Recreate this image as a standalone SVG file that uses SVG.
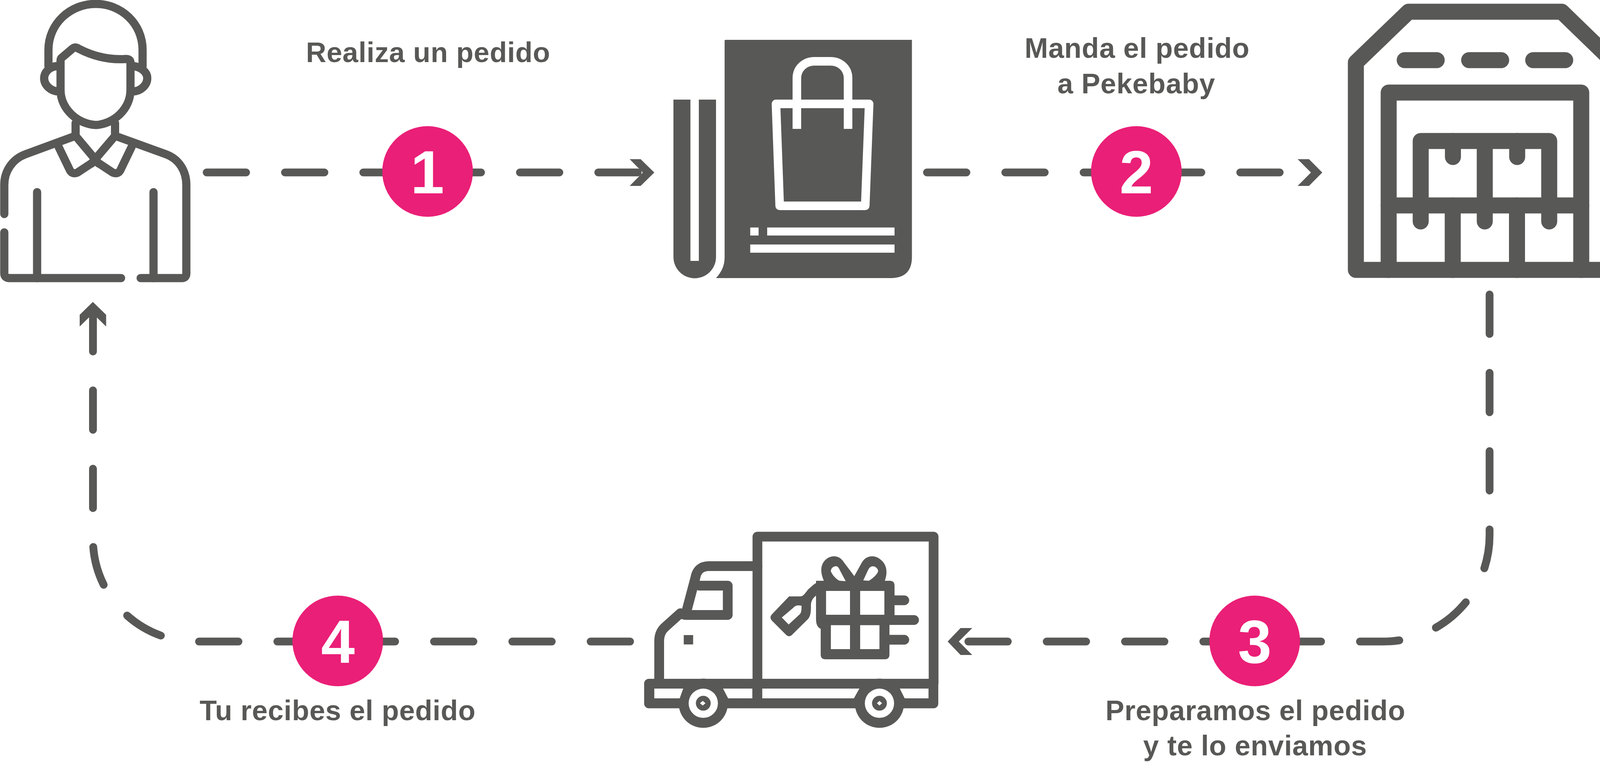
<svg xmlns="http://www.w3.org/2000/svg" width="4152" height="1951" viewBox="0 0 4152 1951">
<style>
.d{fill:#585856}
.w{fill:#fff}
.s{fill:none;stroke:#585856;stroke-linecap:round;stroke-linejoin:round}
.c{fill:none;stroke:#585856;stroke-width:20;stroke-linecap:round;stroke-dasharray:101 99.5}
.b{fill:#ea1f77}
.t{font-family:"Liberation Sans",Arial,sans-serif;font-weight:700;font-size:72px;fill:#585856;text-anchor:middle;letter-spacing:.8px}
.n{font-family:"Liberation Sans",Arial,sans-serif;font-weight:700;font-size:155px;fill:#fff;text-anchor:middle}
</style>
<rect width="4152" height="1951" fill="#fff"/>
<g id="connectors">
<path class="c" d="M529 441.5H1640"/>
<polygon class="d" points="1612,407.6 1640,407.6 1675,441.7 1640,476 1612,476 1645.6,441.7"/>
<path class="c" d="M2373 441.5H3290"/>
<polygon class="d" points="3322,407.6 3351,407.6 3385,441.7 3351,476 3322,476 3356,441.7"/>
<path class="c" d="M3813.3 754V1370A272 272 0 0 1 3541 1642.6H2472"/>
<polygon class="d" points="2426,1642.6 2459,1608 2489,1608 2454.5,1642.6 2489,1677 2459,1677"/>
<path class="c" d="M1613 1642.6H500A262 262 0 0 1 238 1380.6V805"/>
<polygon class="d" points="237.7,773 271.7,806 271.7,836 237.7,803 204,836 204,806"/>
</g>
<g id="node-person">
<g class="s" stroke-width="21">
<path d="M124 170V128C124 60 180 10 245 10C310 10 365 60 365 128V170"/>
<path d="M155 230C155 280 200 318 245 320C290 318 334 280 334 230V160Q334 151 322 151C280 154 240 145 200 124Q192 119 185 125L159 147Q155 150 155 155Z"/>
<path d="M150 169C125 169 113 187 113 200C113 218 130 234 150 234"/>
<path d="M340 169C365 172 377 187 377 200C377 218 360 234 340 234"/>
<path d="M193.500 315V348L253 419M294.500 315V348L234 419"/>
<path d="M150 376L179 436Q185 447 198 442L243.500 412L289 442Q302 447 308 436L337 376"/>
<path d="M190 349L65 395C30 408 11 440 11 473V548"/>
<path d="M298 349L425 395C460 408 477 440 477 473V700Q477 712 465 712H360"/>
<path d="M11 595V700Q11 712 25 712H310"/>
<path d="M95 492V712M393 492V712"/>
</g>
</g>
<g id="node-catalog">
<path class="d" d="M1855 104Q1855 102 1858 102H2334.500V658Q2334.500 712 2280 712H1833C1848 695 1855 680 1855 658Z"/>
<path class="d" d="M1724 255H1767.500V668H1789V255H1833V658A54.500 54.500 0 0 1 1724 658Z"/>
<g fill="none" stroke="#fff" stroke-width="22" stroke-linejoin="round">
<path d="M1986.500 266H2225L2215 527H1996Z"/>
<path d="M2040 330V200C2040 175 2060 157 2085 157H2126C2151 157 2171 175 2171 200V330"/>
</g>
<rect class="w" x="1920.600" y="582.500" width="21.400" height="20.500"/>
<rect class="w" x="1964" y="582.500" width="326" height="20.500"/>
<rect class="w" x="1920.600" y="626" width="369.400" height="21"/>
</g>
<g id="node-warehouse">
<g class="s" stroke-width="41">
<path d="M3471 691V160L3606 30H3998L4132 160V691Z"/>
<path d="M3596 154H3678M3761 154H3843M3925 154H4007"/>
<path d="M3555 691V237H4048V691"/>
<path d="M3555 526H4048"/>
<path d="M3637 526V361H3966V526M3801 361V526"/>
<path d="M3719.500 361V402M3884 361V402"/>
<path d="M3719 526V691M3883.500 526V691"/>
<path d="M3637 526V567M3801 526V567M3966 526V567"/>
</g>
</g>
<g id="node-truck">
<g class="s" stroke-width="25">
<path d="M1939 1750V1374H2390V1750"/>
<path d="M1687.500 1750V1640Q1688 1618 1703 1605L1742 1570Q1748 1575 1760 1574.500H1863V1499.500H1790"/>
<path d="M1755 1574L1780 1480Q1785 1449.500 1815 1449.500H1939"/>
<path d="M2290 1537H2315M2277 1587.500H2340M2277 1638H2315"/>
</g>
<rect class="d" x="1649" y="1738" width="753" height="75.500" rx="12"/>
<circle class="d" cx="1800.400" cy="1800.600" r="63"/>
<circle class="d" cx="2251.400" cy="1800.600" r="63"/>
<g class="w">
<polygon points="1675,1763 1749,1763 1740,1788 1675,1788"/>
<polygon points="1851,1763 1926,1763 1926,1788 1864,1788"/>
<polygon points="1951.400,1763 2200,1763 2186,1788 1951.400,1788"/>
<polygon points="2303.500,1763 2377,1763 2377,1788 2316,1788"/>
<circle cx="1800.400" cy="1800.600" r="37.500"/>
<circle cx="2251.400" cy="1800.600" r="37.500"/>
</g>
<circle class="d" cx="1800.400" cy="1800.600" r="19"/>
<circle class="d" cx="2251.400" cy="1800.600" r="19"/>
<polygon class="w" points="1799,1794.500 1806,1800.600 1799,1806.600 1792,1800.600"/>
<polygon class="w" points="2251.400,1794.500 2258,1800.600 2251.400,1806.600 2245,1800.600"/>
<rect class="d" x="1750.400" y="1626" width="24" height="24"/>
<path class="d" d="M2110.600 1490C2100 1468 2098 1445 2116 1431C2130 1420 2150 1422 2160.600 1440L2187 1475L2206.500 1440C2217 1422 2238 1420 2252 1431C2272 1445 2273 1468 2264 1490Z"/>
<path class="d" d="M2089 1487H2278Q2290 1487 2290 1500V1588H2277V1676Q2277 1688 2265 1688H2113Q2101 1688 2101 1676V1610Q2089 1605 2089 1585Z"/>
<path class="d" d="M2110.600 1487C2090 1487 2080 1500 2069 1509C2060 1520 2057 1527 2048 1527H2020L1977 1572Q1968 1581 1977 1590L2012 1625Q2020 1633 2028 1625L2069 1584.500C2076 1575 2076 1565 2076 1550C2076 1540 2080 1532 2089 1525L2110 1510Z"/>
<g class="w">
<path d="M2137.600 1450C2128 1452 2125 1462 2128 1465C2133 1476 2145 1486 2150 1487L2165 1488L2150 1460C2147 1452 2142 1448 2137.600 1450Z"/>
<path d="M2234.600 1450C2243 1450 2248 1458 2248 1462C2247 1470 2232 1483 2224 1487L2210 1486L2222 1460C2226 1452 2230 1450 2234.600 1450Z"/>
<path d="M2052 1551C2042 1549 2036 1550 2031 1556L2001.400 1581L2019 1599L2046 1574C2051 1570 2052 1564 2052 1551Z"/>
<rect x="2114.700" y="1513" width="61.300" height="61"/>
<rect x="2202" y="1513" width="62" height="61"/>
<rect x="2127" y="1600.700" width="49" height="61.300"/>
<rect x="2202" y="1600.700" width="49.400" height="61.300"/>
</g>
</g>
<g id="step-1"><circle class="b" cx="1094.600" cy="439" r="116"/><text class="n" x="1094" y="495">1</text><text class="t" x="1096" y="159">Realiza un pedido</text></g>
<g id="step-2"><circle class="b" cx="2909" cy="439" r="116"/><text class="n" x="2909" y="495">2</text><text class="t" x="2911" y="148">Manda el pedido</text><text class="t" x="2909" y="238.500">a Pekebaby</text></g>
<g id="step-3"><circle class="b" cx="3212" cy="1641" r="116"/><text class="n" x="3212" y="1697">3</text><text class="t" x="3214" y="1844">Preparamos el pedido</text><text class="t" x="3213" y="1934">y te lo enviamos</text></g>
<g id="step-4"><circle class="b" cx="864.600" cy="1641" r="116"/><text class="n" x="865" y="1697">4</text><text class="t" x="864.500" y="1844">Tu recibes el pedido</text></g>
</svg>
